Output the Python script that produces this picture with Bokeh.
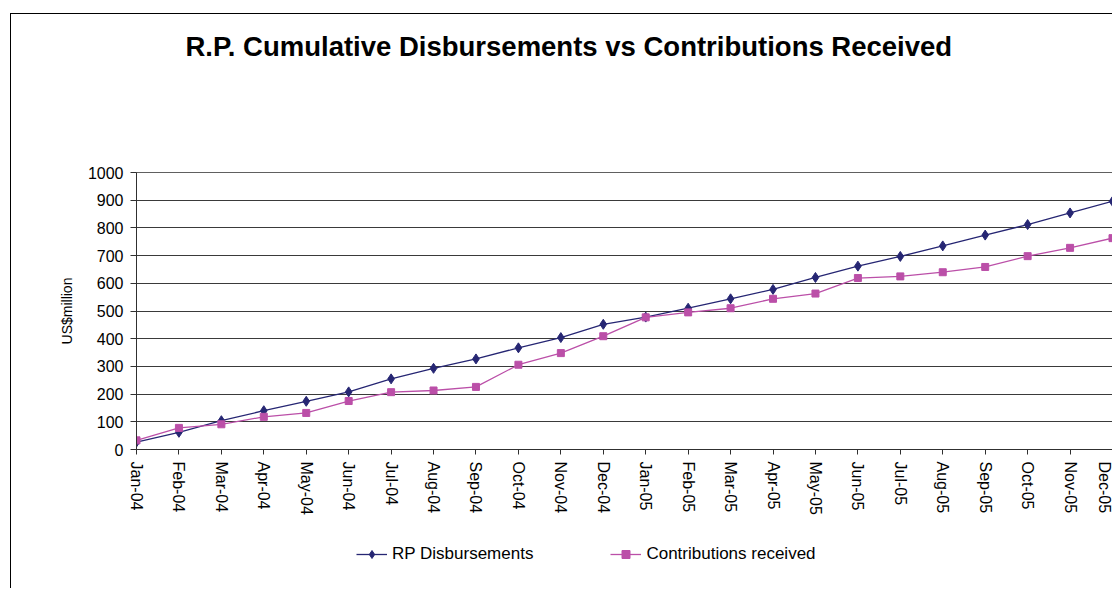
import math
from bokeh.plotting import figure
from bokeh.layouts import column
from bokeh.models import (Range1d, FixedTicker, Legend, LegendItem, Title)
from bokeh.embed import file_html
from bokeh.resources import INLINE

months = ["Jan-04", "Feb-04", "Mar-04", "Apr-04", "May-04", "Jun-04",
          "Jul-04", "Aug-04", "Sep-04", "Oct-04", "Nov-04", "Dec-04",
          "Jan-05", "Feb-05", "Mar-05", "Apr-05", "May-05", "Jun-05",
          "Jul-05", "Aug-05", "Sep-05", "Oct-05", "Nov-05", "Dec-05"]
disbursements = [27, 62, 104, 140, 174, 208, 255, 293, 327, 367, 404, 452,
                 478, 510, 544, 578, 621, 662, 697, 735, 774, 812, 854, 896]
contributions = [33, 78, 91, 118, 132, 175, 207, 213, 226, 306, 348, 409,
                 477, 495, 510, 544, 563, 619, 625, 640, 659, 698, 728, 763]
y_ticks = [0, 100, 200, 300, 400, 500, 600, 700, 800, 900, 1000]

title_text = "R.P. Cumulative Disbursements vs Contributions Received"
y_label = "US$million"
series_names = ["RP Disbursements", "Contributions received"]
NAVY = "#262673"
PINK = "#BB4FA8"
FONT = "Liberation Sans"

xs = list(range(len(months)))

fig = figure(width=1102, height=525, output_backend="svg", toolbar_location=None,
             x_range=Range1d(0, len(months) - 1), y_range=Range1d(0, 1000),
             min_border_left=125, min_border_right=1, min_border_top=158,
             min_border_bottom=90, title=None)
fig.styles = {"margin-left": "10px", "margin-top": "13px",
              "border-left": "1px solid #000", "border-top": "1px solid #000"}

# spacer between title and plot area, then the title itself
spacer = Title(text=" ", text_font_size="10px", standoff=98)
fig.add_layout(spacer, "above")
main_title = Title(text=title_text, align="left", offset=49, standoff=0,
                   text_font=FONT, text_font_size="27.5px",
                   text_font_style="bold", text_color="black")
fig.add_layout(main_title, "above")

fig.background_fill_color = "white"
fig.border_fill_color = "white"
fig.outline_line_color = "#606060"
fig.outline_line_width = 1

# grid
fig.xgrid.grid_line_color = None
fig.ygrid.grid_line_color = "#3a3a3a"
fig.ygrid.grid_line_width = 1
fig.ygrid.ticker = FixedTicker(ticks=y_ticks)

# y axis
fig.yaxis.ticker = FixedTicker(ticks=y_ticks)
fig.yaxis.axis_label = y_label
fig.yaxis.axis_label_text_font = FONT
fig.yaxis.axis_label_text_font_style = "normal"
fig.yaxis.axis_label_text_font_size = "14px"
fig.yaxis.axis_label_text_color = "black"
fig.yaxis.axis_label_standoff = 10
fig.yaxis.major_label_text_font = FONT
fig.yaxis.major_label_text_font_size = "16px"
fig.yaxis.major_label_text_color = "black"
fig.yaxis.major_label_standoff = 7
fig.yaxis.major_tick_in = 0
fig.yaxis.major_tick_out = 6
fig.yaxis.minor_tick_line_color = None
fig.yaxis.axis_line_color = "#303030"
fig.yaxis.major_tick_line_color = "#303030"

# x axis
fig.xaxis.ticker = FixedTicker(ticks=xs)
fig.xaxis.major_label_overrides = {i: m for i, m in zip(xs, months)}
fig.xaxis.major_label_orientation = -math.pi / 2
fig.xaxis.major_label_text_font = FONT
fig.xaxis.major_label_text_font_size = "16px"
fig.xaxis.major_label_text_color = "black"
fig.xaxis.major_label_standoff = 7
fig.xaxis.major_tick_in = 0
fig.xaxis.major_tick_out = 5
fig.xaxis.minor_tick_line_color = None
fig.xaxis.axis_line_color = "#303030"
fig.xaxis.major_tick_line_color = "#303030"

# series
fig.line(xs, disbursements, line_color=NAVY, line_width=1.3)
fig.scatter(xs, disbursements, marker="diamond", size=10,
            fill_color=NAVY, line_color=NAVY)
fig.line(xs, contributions, line_color=PINK, line_width=1.3)
fig.scatter(xs, contributions, marker="square", size=7,
            fill_color=PINK, line_color=PINK)

# legend strip (key glyphs only; the single NaN point draws nothing)
nan = [float("nan")]
leg = figure(width=1102, height=50, output_backend="svg", toolbar_location=None,
             x_range=Range1d(0, 1), y_range=Range1d(0, 1),
             x_axis_location=None, y_axis_location=None,
             min_border_left=125, min_border_right=1,
             min_border_top=0, min_border_bottom=0)
leg.styles = {"margin-left": "10px", "border-left": "1px solid #000"}
leg.outline_line_color = None
leg.grid.visible = False
leg.background_fill_color = "white"
leg.border_fill_color = "white"
k1 = leg.line(nan, nan, line_color=NAVY, line_width=1.3)
m1 = leg.scatter(nan, nan, marker="diamond", size=10, fill_color=NAVY, line_color=NAVY)
k2 = leg.line(nan, nan, line_color=PINK, line_width=1.3)
m2 = leg.scatter(nan, nan, marker="square", size=7, fill_color=PINK, line_color=PINK)

legend = Legend(items=[LegendItem(label=series_names[0], renderers=[k1, m1]),
                       LegendItem(label=series_names[1], renderers=[k2, m2])],
                orientation="horizontal", location=(220, 24),
                glyph_width=31, glyph_height=20, label_standoff=5, spacing=77,
                padding=0, margin=0, border_line_color=None,
                background_fill_alpha=0, label_text_font=FONT,
                label_text_font_size="17px", label_text_color="black")
leg.add_layout(legend, "center")

p = column(fig, leg, spacing=0)

open("out.html", "w").write(file_html(p, INLINE))
